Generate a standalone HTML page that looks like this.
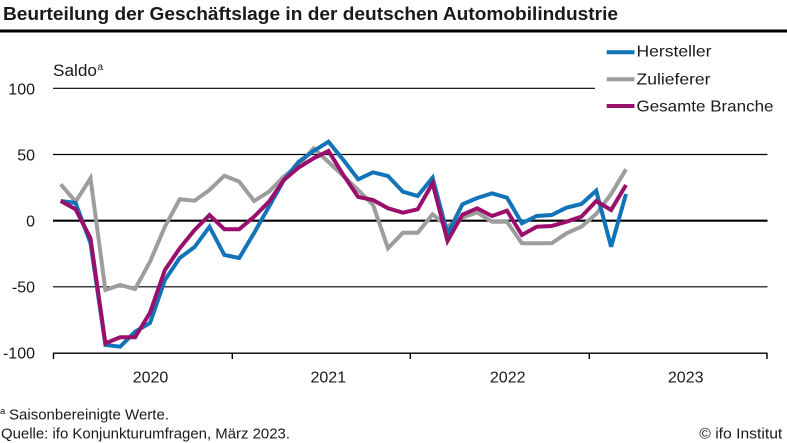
<!DOCTYPE html>
<html><head><meta charset="utf-8"><style>
html,body{margin:0;padding:0;background:#fff;}
svg{display:block;}
text{font-family:"Liberation Sans",sans-serif;fill:#1a1a1a;}
</style></head><body>
<svg width="787" height="443" viewBox="0 0 787 443" xmlns="http://www.w3.org/2000/svg">
<rect width="787" height="443" fill="#fff"/>
<text x="3" y="20" font-size="18.5" font-weight="bold" textLength="615" lengthAdjust="spacingAndGlyphs">Beurteilung der Geschäftslage in der deutschen Automobilindustrie</text>
<rect x="0" y="29.5" width="787" height="3" fill="#000"/>

<!-- grid -->
<line x1="53" y1="88.3" x2="595" y2="88.3" stroke="#000" stroke-width="1.2"/>
<line x1="53" y1="154.5" x2="767.5" y2="154.5" stroke="#000" stroke-width="1.2"/>
<line x1="53" y1="286.8" x2="767.5" y2="286.8" stroke="#000" stroke-width="1.2"/>
<line x1="53" y1="220.7" x2="767.5" y2="220.7" stroke="#000" stroke-width="2.2"/>
<line x1="53" y1="353.2" x2="767.5" y2="353.2" stroke="#000" stroke-width="1.4"/>
<g stroke="#000" stroke-width="1.4">
<line x1="53.5" y1="353" x2="53.5" y2="359"/>
<line x1="232.3" y1="353" x2="232.3" y2="359"/>
<line x1="410.3" y1="353" x2="410.3" y2="359"/>
<line x1="589.3" y1="353" x2="589.3" y2="359"/>
<line x1="767" y1="353" x2="767" y2="359"/>
</g>

<!-- y labels -->
<g font-size="16" text-anchor="end">
<text x="35" y="94.3">100</text>
<text x="35" y="160.5">50</text>
<text x="35" y="226.5">0</text>
<text x="35" y="292.5">-50</text>
<text x="35" y="358.5">-100</text>
</g>
<text x="53" y="76" font-size="16.5" textLength="44" lengthAdjust="spacingAndGlyphs">Saldo</text>
<text x="97.5" y="70" font-size="10">a</text>

<!-- year labels -->
<g font-size="16" text-anchor="middle">
<text x="150.5" y="382.7">2020</text>
<text x="328.3" y="382.7">2021</text>
<text x="507.7" y="382.7">2022</text>
<text x="685.7" y="382.7">2023</text>
</g>

<!-- series -->
<g fill="none" stroke-width="4" stroke-linejoin="miter" stroke-miterlimit="3">
<polyline stroke="#9d9d9d" points="60.7,184.3 75.6,201.7 90.5,178.3 105.4,290 120.2,285 135.1,289 150,261.7 164.9,226.7 179.7,199.3 194.6,200.7 209.5,190 224.4,175.7 239.2,181.7 254.1,201 269,191.7 283.9,176.5 298.7,165 313.6,148.3 328.5,162 343.4,176 358.2,190 373.1,205 388,248.3 402.9,232.7 417.7,232.7 432.6,214.3 447.5,226.5 462.4,217.5 477.2,212.5 492.1,221.7 507,221.7 521.9,243.3 536.7,243.3 551.6,243.3 566.5,233.3 581.4,226.7 596.2,214 611.1,194 626,169.3"/>
<polyline stroke="#1173b8" points="60.7,201 75.6,203 90.5,243 105.4,345 120.2,346.7 135.1,331.7 150,323 164.9,280 179.7,258 194.6,247 209.5,226.7 224.4,255 239.2,258 254.1,233 269,206.7 283.9,180 298.7,161.7 313.6,151 328.5,141.7 343.4,160 358.2,179.3 373.1,172.3 388,176 402.9,191.7 417.7,196 432.6,177.7 447.5,234 462.4,204.3 477.2,198 492.1,193.3 507,197.7 521.9,223.3 536.7,216 551.6,215 566.5,207.7 581.4,204 596.2,190.7 611.1,246.7 626,194"/>
<polyline stroke="#9a0e6c" points="60.7,201 75.6,209.3 90.5,238.3 105.4,343.3 120.2,337.3 135.1,337.3 150,312.7 164.9,270 179.7,248.3 194.6,230 209.5,215 224.4,229.3 239.2,229.3 254.1,216.7 269,201.7 283.9,180 298.7,167.5 313.6,158.3 328.5,151 343.4,175 358.2,197 373.1,200 388,208.3 402.9,212.7 417.7,209.3 432.6,183.3 447.5,241 462.4,214.7 477.2,208.3 492.1,216 507,210.7 521.9,235 536.7,226.7 551.6,226 566.5,221.7 581.4,216.7 596.2,201 611.1,210 626,185"/>
</g>

<!-- legend -->
<g stroke-width="4">
<line x1="606.7" y1="52.3" x2="634.5" y2="52.3" stroke="#1173b8"/>
<line x1="606.7" y1="79.3" x2="634.5" y2="79.3" stroke="#9d9d9d"/>
<line x1="606.7" y1="106" x2="634.5" y2="106" stroke="#9a0e6c"/>
</g>
<g font-size="16">
<text x="636.5" y="56.7" textLength="75" lengthAdjust="spacingAndGlyphs">Hersteller</text>
<text x="636.5" y="84.3" textLength="74" lengthAdjust="spacingAndGlyphs">Zulieferer</text>
<text x="636.5" y="111.7" textLength="137" lengthAdjust="spacingAndGlyphs">Gesamte Branche</text>
</g>

<!-- footer -->
<text x="0" y="414" font-size="9.5">a</text>
<text x="9" y="419.3" font-size="15" textLength="160" lengthAdjust="spacingAndGlyphs">Saisonbereinigte Werte.</text>
<text x="1" y="438.3" font-size="15" textLength="289" lengthAdjust="spacingAndGlyphs">Quelle: ifo Konjunkturumfragen, März 2023.</text>
<text x="699.3" y="438.3" font-size="15" textLength="83" lengthAdjust="spacingAndGlyphs">© ifo Institut</text>
</svg>
</body></html>
